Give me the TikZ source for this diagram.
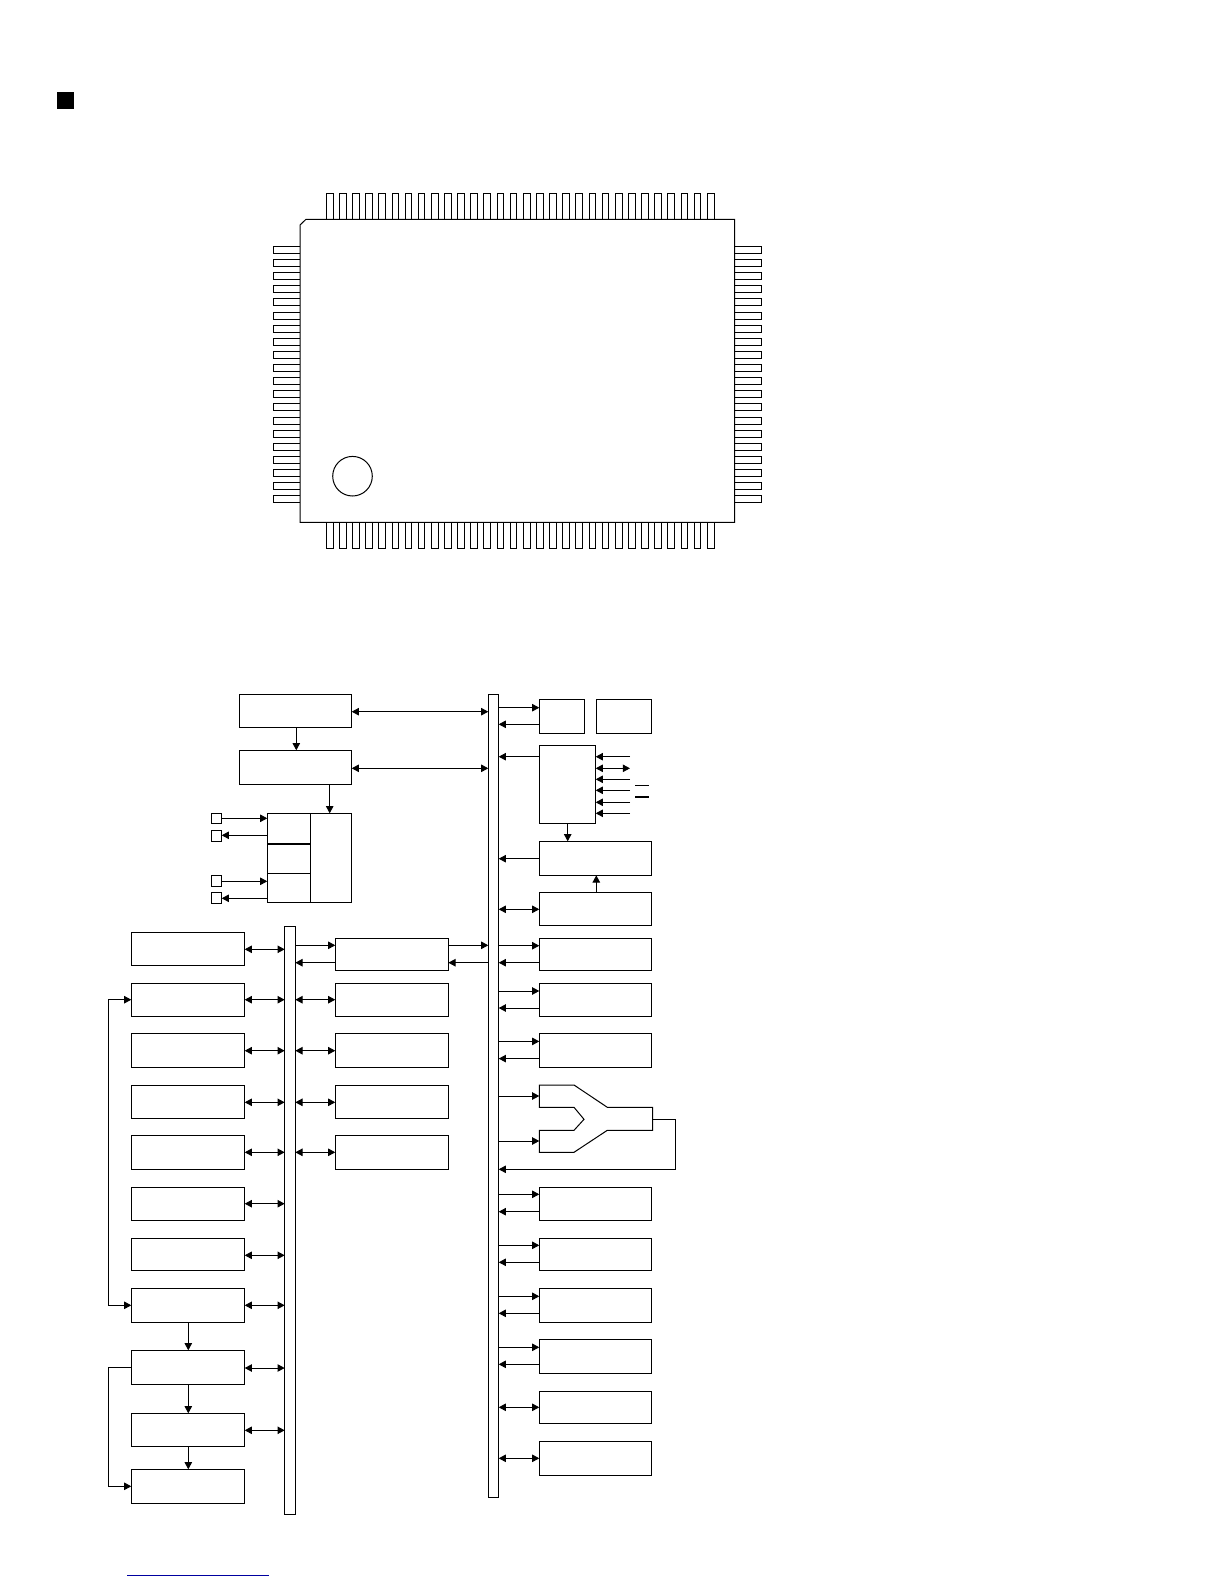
\documentclass[tikz,border=0pt]{standalone}
\usetikzlibrary{arrows.meta}
\definecolor{linkblue}{RGB}{0,0,160}
\tikzset{
  x=0.75pt,y=-0.75pt,
  ink/.style={line width=0.75pt,black},
  blk/.style={ink,draw,fill=white,rectangle,inner sep=0pt,outer sep=0pt},
  conn/.style={ink,line join=miter},
  fwd/.style={conn,-{Triangle[length=5.4pt,width=5.6pt]}},
  bck/.style={conn,{Triangle[length=5.4pt,width=5.6pt]}-},
  both/.style={conn,{Triangle[length=5.4pt,width=5.6pt]}-{Triangle[length=5.4pt,width=5.6pt]}},
  pin/.style={ink,draw,fill=white}
}
% \bx{name}{x1}{y1}{x2}{y2}
\newcommand{\bx}[5]{%
  \pgfmathsetlengthmacro{\bw}{(#4-#2)*0.75pt}%
  \pgfmathsetlengthmacro{\bh}{(#5-#3)*0.75pt}%
  \node[blk,minimum width=\bw,minimum height=\bh] (#1) at ({(#2+#4)/2},{(#3+#5)/2}) {};}
% horizontal connector: \hc{style}{left node}{right node}{y}
\newcommand{\hc}[4]{\draw[#1] (#2.east |- 0,#4) -- (#3.west |- 0,#4);}
% vertical connector: \vc{style}{upper node}{lower node}{x}
\newcommand{\vc}[4]{\draw[#1] (#2.south -| #4,0) -- (#3.north -| #4,0);}
\begin{document}
\begin{tikzpicture}
\useasboundingbox (0,0) rectangle (1224,1584);
\fill[white] (0,0) rectangle (1224,1584);
% heading mark
\fill[black] (57,92) rectangle (74,109);
% package pins
\foreach \i in {0,...,29} {
  \pgfmathsetmacro{\px}{326.3+13.14*\i}
  \draw[pin] (\px,193.3) rectangle ({\px+6.7},219.3);
  \draw[pin] (\px,522.3) rectangle ({\px+6.7},548.3);
}
\foreach \i in {0,...,19} {
  \pgfmathsetmacro{\py}{246.3+13.14*\i}
  \draw[pin] (273.3,\py) rectangle (300,{\py+7});
  \draw[pin] (734.7,\py) rectangle (761.7,{\py+7});
}
% package body
\draw[pin,line join=miter] (306,219.3) -- (734.7,219.3) -- (734.7,522.3) -- (300,522.3) -- (300,225) -- cycle;
\node[ink,draw,circle,minimum size=29.7pt,inner sep=0pt] (dot) at (352.5,476.2) {};
% buses
\bx{busA}{284.7}{926.3}{295.3}{1514.3}
\bx{busB}{488.3}{694.3}{498.7}{1497.3}
% top blocks
\bx{T1}{239.3}{694.3}{351.7}{727.3}
\bx{T2}{239.3}{750.3}{351.7}{784.3}
\bx{Ga}{267.3}{813.3}{310.3}{843.7}
\bx{Gb}{267.3}{843.7}{310.3}{873.3}
\bx{Gc}{267.3}{873.3}{310.3}{902.3}
\bx{Gd}{310.3}{813.3}{351.7}{902.3}
\draw[line width=1.3pt] (Gb.north west) -- (Gb.north east);
\bx{Sa}{211.3}{813.3}{221.7}{823.6}
\bx{Sb}{211.3}{830.3}{221.7}{841.3}
\bx{Sc}{211.3}{875.3}{221.7}{886.3}
\bx{Sd}{211.3}{892.3}{221.7}{903.3}
\vc{fwd}{T1}{T2}{296.3}
\vc{fwd}{T2}{Gd}{329.7}
\hc{fwd}{Sa}{Ga}{818.3}
\hc{bck}{Sb}{Ga}{835.3}
\hc{fwd}{Sc}{Gc}{881.3}
\hc{bck}{Sd}{Gc}{898.3}
\hc{both}{T1}{busB}{711.7}
\hc{both}{T2}{busB}{768.3}
% left column
\bx{L1}{131.3}{932.3}{244.7}{965.3}
\bx{L2}{131.3}{983.3}{244.7}{1016.3}
\bx{L3}{131.3}{1033.3}{244.7}{1067.3}
\bx{L4}{131.3}{1085.3}{244.7}{1118.3}
\bx{L5}{131.3}{1135.3}{244.7}{1169.3}
\bx{L6}{131.3}{1187.3}{244.7}{1220.3}
\bx{L7}{131.3}{1238.3}{244.7}{1270.7}
\bx{L8}{131.3}{1288.3}{244.7}{1322.3}
\bx{L9}{131.3}{1350.3}{244.7}{1384.3}
\bx{L10}{131.3}{1413.3}{244.7}{1446.3}
\bx{L11}{131.3}{1469.3}{244.7}{1503.3}
\hc{both}{L1}{busA}{949.3}
\hc{both}{L2}{busA}{999.7}
\hc{both}{L3}{busA}{1050.7}
\hc{both}{L4}{busA}{1102.3}
\hc{both}{L5}{busA}{1152.3}
\hc{both}{L6}{busA}{1203.7}
\hc{both}{L7}{busA}{1255.3}
\hc{both}{L8}{busA}{1305.3}
\hc{both}{L9}{busA}{1368}
\hc{both}{L10}{busA}{1430.3}
\vc{fwd}{L8}{L9}{188.3}
\vc{fwd}{L9}{L10}{188.3}
\vc{fwd}{L10}{L11}{188.3}
\draw[both] (L2.west |- 0,999.7) -- (108.3,999.7) -- (108.3,1305.3) -- (L8.west |- 0,1305.3);
\draw[fwd] (L9.west |- 0,1367.3) -- (108.3,1367.3) -- (108.3,1486.3) -- (L11.west |- 0,1486.3);
% middle column
\bx{M1}{335.3}{938.3}{448.3}{970.3}
\bx{M2}{335.3}{983.3}{448.3}{1016.3}
\bx{M3}{335.3}{1033.3}{448.3}{1067.3}
\bx{M4}{335.3}{1085.3}{448.3}{1118.3}
\bx{M5}{335.3}{1135.3}{448.3}{1169.3}
\hc{fwd}{busA}{M1}{945.3}
\hc{bck}{busA}{M1}{962.7}
\hc{fwd}{M1}{busB}{945.3}
\hc{bck}{M1}{busB}{962.7}
\hc{both}{busA}{M2}{999.7}
\hc{both}{busA}{M3}{1050.7}
\hc{both}{busA}{M4}{1102.3}
\hc{both}{busA}{M5}{1152.3}
% right column
\bx{Ra}{539.3}{699.3}{584.3}{733.3}
\bx{Rb}{596.3}{699.3}{651.7}{733.3}
\bx{Rc}{539.3}{745.3}{595.7}{823.3}
\bx{R3}{539.3}{841.3}{651.7}{875.3}
\bx{R4}{539.3}{892.3}{651.7}{925.7}
\bx{R5}{539.3}{938.3}{651.7}{970.3}
\bx{R6}{539.3}{983.3}{651.7}{1016.3}
\bx{R7}{539.3}{1033.3}{651.7}{1067.3}
\bx{R8}{539.3}{1187.3}{651.7}{1220.3}
\bx{R9}{539.3}{1238.3}{651.7}{1270.3}
\bx{R10}{539.3}{1288.3}{651.7}{1322.3}
\bx{R11}{539.3}{1339.3}{651.7}{1373.3}
\bx{R12}{539.3}{1391.3}{651.7}{1423.3}
\bx{R13}{539.3}{1441.3}{651.7}{1475.3}
\hc{fwd}{busB}{Ra}{707.7}
\hc{bck}{busB}{Ra}{724.3}
\hc{bck}{busB}{Rc}{756.7}
\hc{bck}{busB}{R3}{858.7}
\hc{both}{busB}{R4}{909.3}
\hc{fwd}{busB}{R5}{945.7}
\hc{bck}{busB}{R5}{962.7}
\hc{fwd}{busB}{R6}{991}
\hc{bck}{busB}{R6}{1008}
\hc{fwd}{busB}{R7}{1041.4}
\hc{bck}{busB}{R7}{1058.6}
\hc{fwd}{busB}{R8}{1194.3}
\hc{bck}{busB}{R8}{1211.7}
\hc{fwd}{busB}{R9}{1245.3}
\hc{bck}{busB}{R9}{1262.3}
\hc{fwd}{busB}{R10}{1296.3}
\hc{bck}{busB}{R10}{1313.3}
\hc{fwd}{busB}{R11}{1347.3}
\hc{bck}{busB}{R11}{1364.3}
\hc{both}{busB}{R12}{1407.3}
\hc{both}{busB}{R13}{1458.3}
\vc{fwd}{Rc}{R3}{567.7}
\draw[fwd] (R4.north -| 596.3,0) -- (R3.south -| 596.3,0);
% signals into the tall block
\coordinate (fa) at (630,756.7);
\coordinate (fb) at (630,768.3);
\coordinate (fc) at (630,779.3);
\coordinate (fd) at (630,790.3);
\coordinate (fe) at (630,802.3);
\coordinate (ff) at (630,813.3);
\draw[fwd] (fa) -- (Rc.east |- fa);
\draw[both] (fb) -- (Rc.east |- fb);
\draw[fwd] (fc) -- (Rc.east |- fc);
\draw[fwd] (fd) -- (Rc.east |- fd);
\draw[fwd] (fe) -- (Rc.east |- fe);
\draw[fwd] (ff) -- (Rc.east |- ff);
\draw[ink] (635,785.3) -- (649,785.3);
\draw[line width=1.3pt] (635,797) -- (649,797);
% selector (Y-shaped)
\draw[ink,fill=white,line join=miter] (539.3,1085) -- (574,1085) -- (607.3,1107.3) -- (652.7,1107.3) -- (652.7,1130.3) -- (607.3,1130.3) -- (574,1152.3) -- (539.3,1152.3) -- (539.3,1130.3) -- (574,1130.3) -- (584,1119.3) -- (574,1107.3) -- (539.3,1107.3) -- cycle;
\coordinate (ya) at (539.3,1096);
\coordinate (yb) at (539.3,1141);
\coordinate (yo) at (652.7,1119.3);
\draw[fwd] (busB.east |- ya) -- (ya);
\draw[fwd] (busB.east |- yb) -- (yb);
\draw[fwd] (yo) -- (675,1119.3) -- (675,1169.3) -- (busB.east |- 0,1169.3);
% rule at the foot of the page
\draw[linkblue,line width=0.8pt] (127.3,1575.3) -- (269,1575.3);
\end{tikzpicture}
\end{document}
